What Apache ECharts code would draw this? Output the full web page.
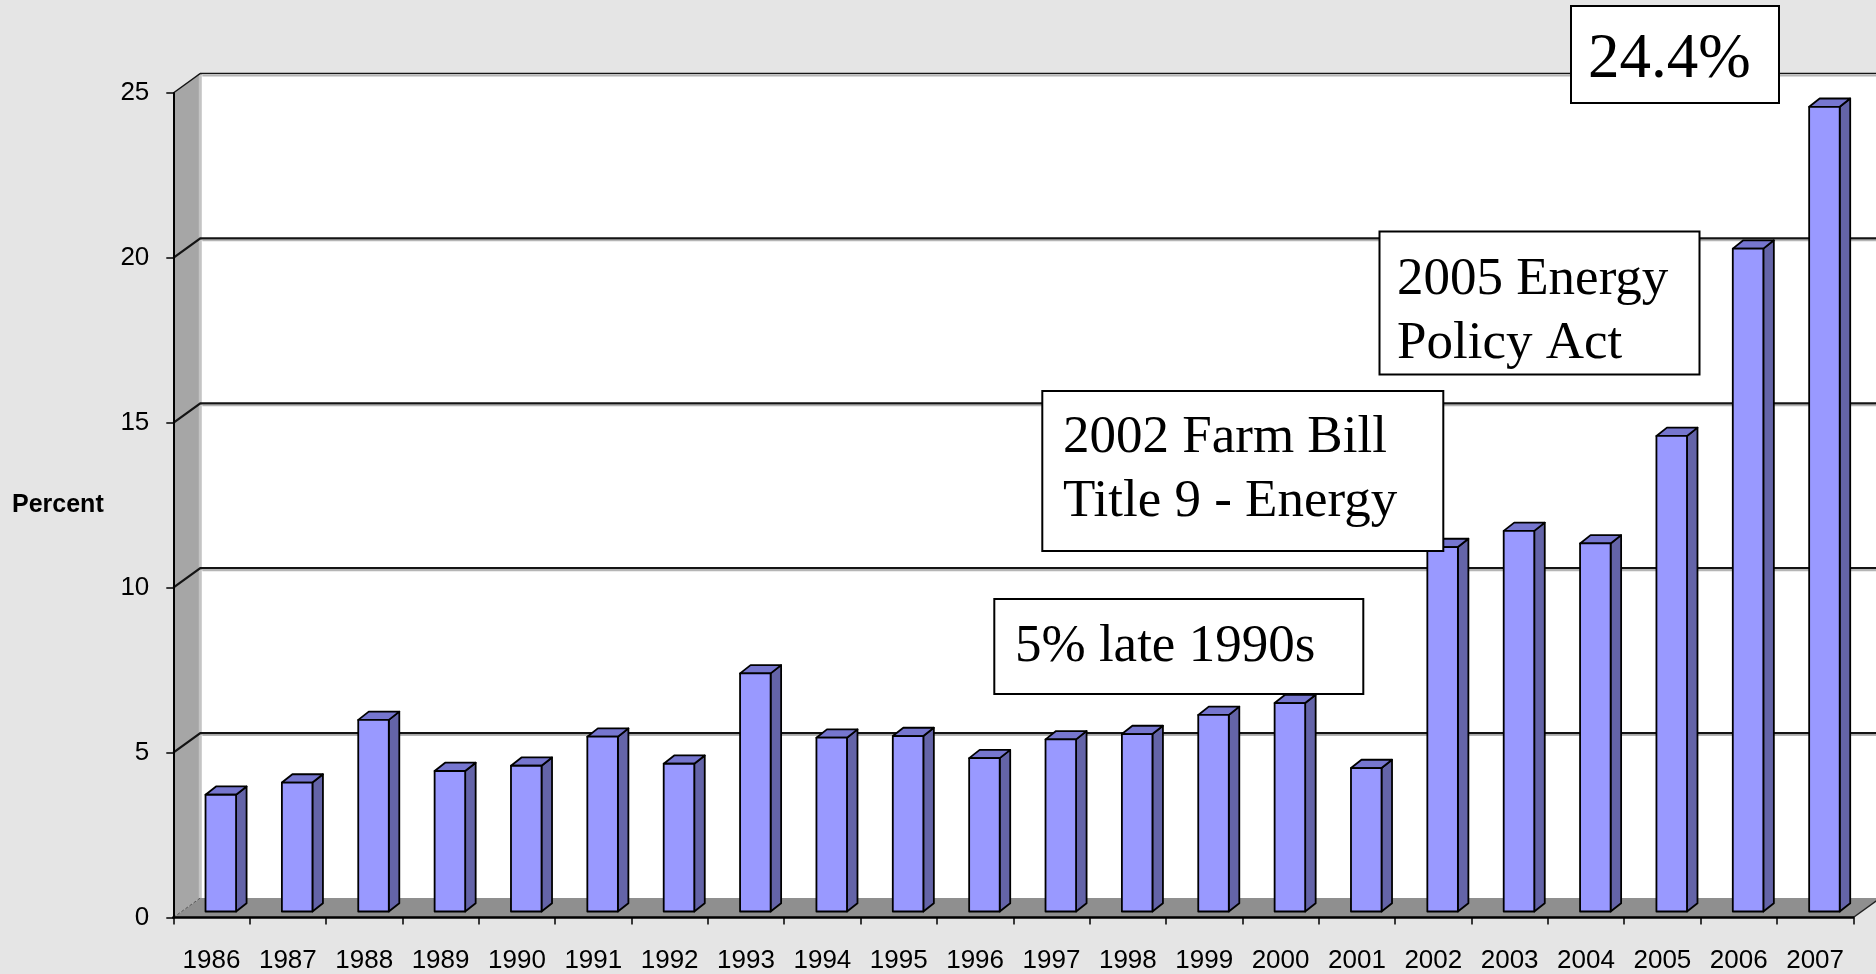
<!DOCTYPE html>
<html><head><meta charset="utf-8">
<script src="https://cdn.jsdelivr.net/npm/echarts@6/dist/echarts.min.js"></script>
<style>html,body{margin:0;padding:0;background:#e5e5e5}#c{width:1876px;height:974px}</style>
</head><body><div id="c"></div>
<script>
const years = ['1986','1987','1988','1989','1990','1991','1992','1993','1994','1995','1996','1997','1998','1999','2000','2001','2002','2003','2004','2005','2006','2007'];
const percent = [3.54,3.91,5.81,4.26,4.42,5.30,4.48,7.22,5.27,5.32,4.65,5.22,5.38,5.96,6.32,4.35,11.05,11.54,11.16,14.42,20.10,24.40];
const yTicks = [0,5,10,15,20,25];
const yMax = 25;
const yInterval = 5;
const axisTitle = 'Percent';
const notePeak = '24.4%';
const noteEnergyAct = '2005 Energy\nPolicy Act';
const noteFarmBill = '2002 Farm Bill\nTitle 9 - Energy';
const noteLate90s = '5% late 1990s';

const DX = 27, DY = -19.5;      // depth of the 3D box
const BDX = 10.5, BDY = -8.3;   // depth of each column
const BAR_SHIFT = -6;           // column base sits slightly behind the front plane

function renderWalls(params, api) {
  const n = years.length;
  const band = api.size([1, 0])[0];
  const xL = api.coord([0, 0])[0] - band / 2;
  const xR = api.coord([n - 1, 0])[0] + band / 2;
  const y0 = api.coord([0, 0])[1];
  const yT = api.coord([0, yMax])[1];
  const ch = [];
  ch.push({type: 'rect', shape: {x: xL + DX, y: yT + DY, width: xR - xL + 20, height: y0 - yT}, style: {fill: '#ffffff'}});
  ch.push({type: 'polygon', shape: {points: [[xL, y0], [xL + DX, y0 + DY], [xL + DX, yT + DY], [xL, yT]]}, style: {fill: '#a6a6a6'}});
  ch.push({type: 'line', shape: {x1: xL + DX, y1: yT + DY, x2: xL + DX, y2: y0 + DY}, style: {stroke: '#c4c4c4', lineWidth: 3}});
  ch.push({type: 'polygon', shape: {points: [[xL, y0], [xR, y0], [xR + DX, y0 + DY], [xL + DX, y0 + DY]]}, style: {fill: '#8f8f8f'}});
  ch.push({type: 'line', shape: {x1: xL, y1: y0, x2: xL + DX, y2: y0 + DY}, style: {stroke: '#555', lineWidth: 1, lineDash: [3, 2]}});
  ch.push({type: 'line', shape: {x1: xR, y1: y0, x2: xR + DX, y2: y0 + DY}, style: {stroke: '#222', lineWidth: 1.5}});
  yTicks.forEach(function (v) {
    if (v === 0) return;
    const y = api.coord([0, v])[1];
    ch.push({type: 'line', shape: {x1: xL + DX + 2, y1: y + DY + 2.2, x2: xR + DX + 20, y2: y + DY + 2.2}, style: {stroke: '#b5b5b5', lineWidth: 1.5}});
    ch.push({type: 'polyline', shape: {points: [[xL, y], [xL + DX, y + DY], [xR + DX + 20, y + DY]]}, style: {stroke: '#141414', lineWidth: v === yMax ? 1.5 : 2.2, fill: null}});
  });
  return {type: 'group', silent: true, children: ch};
}

function renderBar(params, api) {
  const i = api.value(0), v = api.value(1);
  const top = api.coord([i, v]);
  const base = api.coord([i, 0]);
  const band = api.size([1, 0])[0];
  const w = band * 0.40;
  const left = top[0] - band * 0.078;
  const y1 = top[1] + BAR_SHIFT, y0 = base[1] + BAR_SHIFT;
  const stroke = {stroke: '#000', lineWidth: 1.8, lineJoin: 'round'};
  return {type: 'group', children: [
    {type: 'polygon', shape: {points: [[left + w, y1], [left + w + BDX, y1 + BDY], [left + w + BDX, y0 + BDY], [left + w, y0]]},
      style: Object.assign({fill: '#6464a8'}, stroke)},
    {type: 'polygon', shape: {points: [[left, y1], [left + BDX, y1 + BDY], [left + w + BDX, y1 + BDY], [left + w, y1]]},
      style: Object.assign({fill: '#7676cf'}, stroke)},
    {type: 'rect', shape: {x: left, y: y1, width: w, height: y0 - y1},
      style: Object.assign({fill: '#9999ff'}, stroke)}
  ]};
}

const chart = echarts.init(document.getElementById('c'), null, {renderer: 'canvas'});
const serif = '"Liberation Serif", "Times New Roman", serif';
const sans = '"Liberation Sans", Arial, sans-serif';

function noteBox(x, y, w, h, text, tx, ty, size) {
  return [
    {type: 'rect', shape: {x: x, y: y, width: w, height: h}, style: {fill: '#fff', stroke: '#000', lineWidth: 2}, z: 100},
    {type: 'text', x: tx, y: ty, style: {text: text, font: size + 'px ' + serif, fill: '#000', lineHeight: size * 1.21, verticalAlign: 'middle', align: 'left'}, z: 101}
  ];
}

chart.setOption({
  backgroundColor: '#e5e5e5',
  animation: false,
  grid: {left: 173.3, right: 22.7, top: 93, bottom: 56.5, containLabel: false, outerBoundsMode: 'none'},
  xAxis: {
    type: 'category', data: years, boundaryGap: true,
    axisLine: {lineStyle: {color: '#000', width: 2.5}},
    axisTick: {show: true, length: 7, alignWithLabel: false, lineStyle: {color: '#000', width: 1.5}},
    axisLabel: {color: '#000', fontSize: 26, fontFamily: sans, margin: 30, interval: 0}
  },
  yAxis: {
    type: 'value', min: 0, max: yMax, interval: yInterval,
    axisLine: {show: true, lineStyle: {color: '#000', width: 2}},
    axisTick: {show: true, length: 7, lineStyle: {color: '#000', width: 1.5}},
    axisLabel: {color: '#000', fontSize: 26, fontFamily: sans, margin: 24, padding: [8, 0, 0, 0]},
    splitLine: {show: false}
  },
  series: [
    {type: 'custom', name: 'walls', z: -1, silent: true, clip: false, renderItem: renderWalls, data: [[0, 0]]},
    {type: 'custom', name: 'Percent', z: 5, clip: false, renderItem: renderBar,
      encode: {x: 0, y: 1},
      data: years.map(function (y, i) { return [i, percent[i]]; })}
  ],
  graphic: [
    {type: 'text', x: 12, y: 505, style: {text: axisTitle, font: 'bold 25px ' + sans, fill: '#000', verticalAlign: 'middle'}}
  ].concat(
    noteBox(1571, 6, 208, 97, notePeak, 1588, 60, 63),
    noteBox(1379.5, 231.5, 320, 143, noteEnergyAct, 1397, 312.5, 53),
    noteBox(1042.3, 391, 401, 160, noteFarmBill, 1063, 470.5, 53),
    noteBox(994.3, 599, 369, 95, noteLate90s, 1015, 647, 53)
  )
});
</script>
</body></html>
